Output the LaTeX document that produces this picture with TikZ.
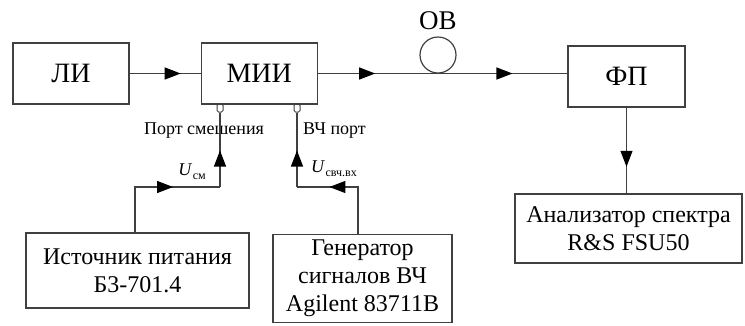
\documentclass[tikz,border=0pt]{standalone}
\usepackage{fontspec}
\setmainfont{Liberation Serif}
\usetikzlibrary{positioning, calc, arrows.meta, decorations.markings}

\newcommand{\Usig}[1]{\textit{U}\kern0.5pt\raisebox{-4pt}{\fontsize{12}{12}\selectfont #1}}

\tikzset{
  blk/.style={draw=black!75, line width=1.2pt, rectangle, align=center, inner sep=0pt, font=\fontsize{24}{28}\selectfont},
  big/.style={blk, font=\fontsize{28}{30}\selectfont},
  lbl/.style={inner sep=0pt, font=\fontsize{18}{20}\selectfont},
  wire/.style={draw=black!75, line width=1.2pt},
  midarr/.style={postaction={decorate, decoration={markings, mark=at position #1 with {\arrow[black]{Triangle[length=16pt, width=12pt]}}}}}
}

\begin{document}
\begin{tikzpicture}[x=1pt, y=-1pt, >=Latex]
\useasboundingbox (0,0) rectangle (745,325);

\node[big, minimum width=116pt, minimum height=61pt] (LI) at (71,73.5) {ЛИ};
\node[big, minimum width=116pt, minimum height=61pt, right=71pt of LI] (MII) {МИИ};
\node[big, minimum width=117pt, minimum height=61pt] (FP) at (626.5,76.5) {ФП};

\node[draw=black!75, line width=1.2pt, circle, minimum size=36pt, inner sep=0pt] (OV) at (438,55) {};
\node[inner sep=0pt, font=\fontsize{27}{30}\selectfont] (OVlbl) at (438,21) {ОВ};

\node[blk, minimum width=227pt, minimum height=69pt] (An) at (628.5,228.5) {Анализатор спектра\\R\&S FSU50};
\node[blk, minimum width=223pt, minimum height=75pt] (Src) at (137.5,270.5) {Источник питания\\Б3-701.4};
\node[blk, minimum width=179pt, minimum height=88pt] (Gen) at (362.5,278.5) {Генератор\\сигналов ВЧ\\Agilent 83711B};

% порты модулятора
\node[draw=black!75, line width=1pt, minimum width=6pt, minimum height=8pt, inner sep=0pt, rounded corners=1.5pt] (pB) at (220,108) {};
\node[draw=black!75, line width=1pt, minimum width=6pt, minimum height=8pt, inner sep=0pt, rounded corners=1.5pt] (pR) at (297,108) {};

\node[lbl] (pBlbl) at (204,131) {Порт смешения};
\node[lbl, anchor=west] (pRlbl) at (303,131) {ВЧ порт};
\node[lbl] (Ubias) at (192,172) {\Usig{см}};
\node[lbl] (Urf) at (334,169) {\Usig{свч.вх}};

% оптический тракт
\draw[wire, midarr=0.72] (LI) -- (MII);
\draw[wire, midarr=0.23, midarr=0.78] (MII.east) -- (MII.east -| FP.west);
\draw[wire, midarr=0.69] (FP.south) -- (FP.south |- An.north);

% питание и ВЧ
\coordinate (bB) at (135,187);
\coordinate (bR) at (358,187);
\draw[wire, midarr=0.64] (Src.north -| bB) -- (bB) -- (bB -| pB);
\draw[wire, midarr=0.49] (bB -| pB) -- (pB.south);
\draw[wire, midarr=0.70] (Gen.north -| bR) -- (bR) -- (bR -| pR);
\draw[wire, midarr=0.49] (bR -| pR) -- (pR.south);

\end{tikzpicture}
\end{document}
